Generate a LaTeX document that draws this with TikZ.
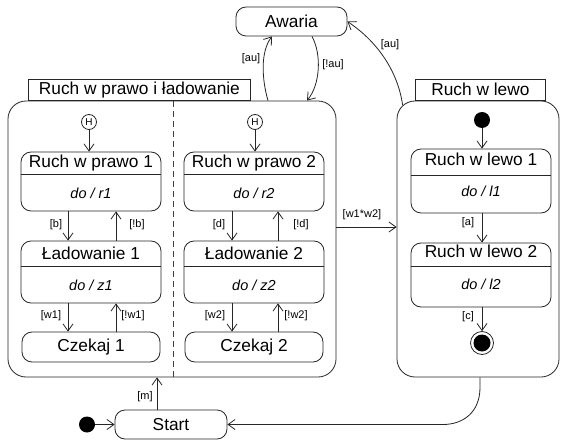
\documentclass[tikz,border=0pt]{standalone}
\usepackage{fontspec}
\setmainfont{Liberation Sans}
\usetikzlibrary{arrows.meta}

\newcommand\stnamefont{\fontsize{17.3}{20}\selectfont}
\newcommand\stactfont{\itshape\fontsize{14.5}{17}\selectfont}
\newcommand\stlblfont{\fontsize{11}{13}\selectfont}
\newcommand\sthistfont{\fontsize{10}{11}\selectfont}

\begin{document}
\begin{tikzpicture}[x=1pt,y=-1pt,
  ln/.style={line width=0.8pt,draw=black!85},
  statebox/.style={ln,rounded corners=10pt,inner sep=0pt,font=\stnamefont},
  compbox/.style={ln,rounded corners=18pt,inner sep=0pt},
  tabbox/.style={ln,inner sep=0pt,font=\stnamefont},
  nametext/.style={anchor=base,inner sep=0pt,font=\stnamefont},
  acttext/.style={anchor=base,inner sep=0pt,font=\stactfont},
  lbl/.style={inner sep=0pt,font=\stlblfont},
  arr/.style={line width=0.8pt,draw=black!85,-{Straight Barb[length=7pt,width=10pt]}},
  hist/.style={ln,circle,minimum size=15pt,inner sep=0pt,font=\sthistfont},
  initdot/.style={circle,fill=black,minimum size=16pt,inner sep=0pt},
  finalst/.style={ln,circle,minimum size=23pt,inner sep=0pt,
    path picture={\fill[black] (path picture bounding box.center) circle (8.5pt);}},
  divider/.style={line width=0.8pt,draw=black!75,dash pattern=on 6pt off 4pt}]
\useasboundingbox (0,0) rectangle (561,443);

% failure state
\node[statebox,minimum width=111pt,minimum height=29pt] (aw) at (291.5,21.5) {Awaria};

% composite state: moving right and loading (two regions)
\node[compbox,minimum width=328pt,minimum height=276pt] (cont1) at (172,239) {};
\node[tabbox,minimum width=222pt,minimum height=21pt,anchor=south west] (tab1)
  at (cont1.north west -| 28,0) {Ruch w prawo i ładowanie};
\draw[divider] (cont1.north -| 173,0) -- (cont1.south -| 173,0);

% region 1
\node[hist] (h1) at (89,122) {H};
\node[statebox,minimum width=140pt,minimum height=59pt] (rp1) at (91,181.5) {};
\draw[ln] (rp1.west |- 0,174) -- (rp1.east |- 0,174);
\node[nametext] (rp1n) at (91,168) {Ruch w prawo 1};
\node[acttext] (rp1a) at (91,199) {do / r1};

\node[statebox,minimum width=140pt,minimum height=62pt] (l1) at (91,272) {};
\draw[ln] (l1.west |- 0,266) -- (l1.east |- 0,266);
\node[nametext] (l1n) at (91,259) {Ładowanie 1};
\node[acttext] (l1a) at (91,290) {do / z1};

\node[statebox,minimum width=138pt,minimum height=30pt] (c1) at (91,347) {Czekaj 1};

\draw[arr] (h1) -- (h1 |- rp1.north);
\draw[arr] ([xshift=-23pt]rp1.south) -- ([xshift=-23pt]l1.north);
\draw[arr] ([xshift=25pt]l1.north) -- ([xshift=25pt]rp1.south);
\draw[arr] ([xshift=-23pt]l1.south) -- ([xshift=-23pt]c1.north);
\draw[arr] ([xshift=25pt]c1.north) -- ([xshift=25pt]l1.south);
\node[lbl] (lb) at (56,225) {[b]};
\node[lbl] (lnb) at (137,225) {[!b]};
\node[lbl] (lw1) at (51,316) {[w1]};
\node[lbl] (lnw1) at (133,316) {[!w1]};

% region 2
\node[hist] (h2) at (255,122) {H};
\node[statebox,minimum width=140pt,minimum height=59pt] (rp2) at (254,181.5) {};
\draw[ln] (rp2.west |- 0,174) -- (rp2.east |- 0,174);
\node[nametext] (rp2n) at (254,168) {Ruch w prawo 2};
\node[acttext] (rp2a) at (254,199) {do / r2};

\node[statebox,minimum width=140pt,minimum height=62pt] (l2) at (254,272) {};
\draw[ln] (l2.west |- 0,266) -- (l2.east |- 0,266);
\node[nametext] (l2n) at (254,259) {Ładowanie 2};
\node[acttext] (l2a) at (254,290) {do / z2};

\node[statebox,minimum width=138pt,minimum height=30pt] (c2) at (254,347) {Czekaj 2};

\draw[arr] (h2) -- (h2 |- rp2.north);
\draw[arr] ([xshift=-22pt]rp2.south) -- ([xshift=-22pt]l2.north);
\draw[arr] ([xshift=24pt]l2.north) -- ([xshift=24pt]rp2.south);
\draw[arr] ([xshift=-22pt]l2.south) -- ([xshift=-22pt]c2.north);
\draw[arr] ([xshift=24pt]c2.north) -- ([xshift=24pt]l2.south);
\node[lbl] (ld) at (219,225) {[d]};
\node[lbl] (lnd) at (301,225) {[!d]};
\node[lbl] (lw2) at (215,316) {[w2]};
\node[lbl] (lnw2) at (296,316) {[!w2]};

% composite state: moving left
\node[compbox,minimum width=162pt,minimum height=276pt] (cont2) at (478,239) {};
\node[tabbox,minimum width=130pt,minimum height=21pt,anchor=south west] (tab2)
  at (cont2.north west -| 415,0) {Ruch w lewo};
\node[initdot] (i2) at (482,120) {};

\node[statebox,minimum width=140pt,minimum height=64pt] (rl1) at (481,181) {};
\draw[ln] (rl1.west |- 0,175) -- (rl1.east |- 0,175);
\node[nametext] (rl1n) at (481,166) {Ruch w lewo 1};
\node[acttext] (rl1a) at (481,197) {do / l1};

\node[statebox,minimum width=140pt,minimum height=64pt] (rl2) at (481,275) {};
\draw[ln] (rl2.west |- 0,266) -- (rl2.east |- 0,266);
\node[nametext] (rl2n) at (481,258) {Ruch w lewo 2};
\node[acttext] (rl2a) at (481,289) {do / l2};

\node[finalst] (f2) at (482,343) {};

\draw[arr] (i2) -- (i2 |- rl1.north);
\draw[arr] (rl1.south -| i2) -- (rl2.north -| i2);
\draw[arr] (rl2.south -| f2) -- (f2);
\node[lbl] (la) at (468,223) {[a]};
\node[lbl] (lc) at (468,317) {[c]};

% start
\node[statebox,minimum width=112pt,minimum height=29pt] (start) at (171,424.5) {Start};
\node[initdot] (i1) at (87,424.5) {};
\draw[arr] (i1) -- (start);
\draw[arr] ([xshift=-14pt]start.north) -- ([xshift=-14pt]start.north |- cont1.south);
\node[lbl] (lm) at (145,397) {[m]};

% transitions between composite states
\draw[arr] ([yshift=12pt]cont1.east) -- ([yshift=12pt]cont2.west);
\node[lbl] (lww) at (362,215) {[w1*w2]};

\draw[arr] ([xshift=96pt]cont1.north) .. controls (262,80) and (260,52) .. ([xshift=-19.5pt]aw.south);
\draw[arr] ([xshift=20.5pt]aw.south) .. controls (322,55) and (320,85) .. ([xshift=135pt]cont1.north);
\draw[arr] ([xshift=6pt,yshift=-4.5pt]cont2.north west) .. controls (398,72) and (378,42) .. (aw.east);
\node[lbl] (lau1) at (251,59) {[au]};
\node[lbl] (lnau) at (333,65) {[!au]};
\node[lbl] (lau2) at (390,45) {[au]};

\draw[arr] ([xshift=2pt]cont2.south) -- ++(0,10) .. controls +(0,25) and +(20,0) .. (443,424.5) -- (start.east);
\end{tikzpicture}
\end{document}
